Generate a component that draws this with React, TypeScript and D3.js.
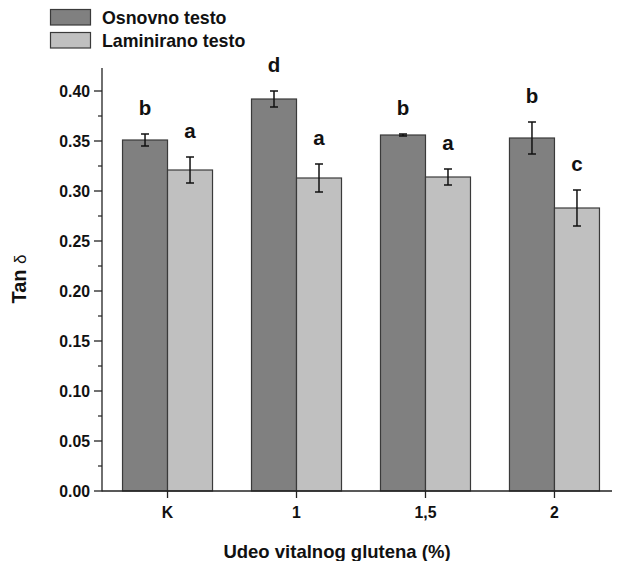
import React from "react";
import * as d3 from "d3";

const categories = ["K", "1", "1,5", "2"];
const seriesNames = ["Osnovno testo", "Laminirano testo"];
const osnovno = [0.351, 0.392, 0.356, 0.353];
const osnovnoErr = [0.006, 0.008, 0.001, 0.016];
const osnovnoLetters = ["b", "d", "b", "b"];
const laminirano = [0.321, 0.313, 0.314, 0.283];
const laminiranoErr = [0.013, 0.014, 0.008, 0.018];
const laminiranoLetters = ["a", "a", "a", "c"];
const yTicks = [0, 0.05, 0.1, 0.15, 0.2, 0.25, 0.3, 0.35, 0.4];
const yMinorTicks = [0.025, 0.075, 0.125, 0.175, 0.225, 0.275, 0.325, 0.375, 0.425];

const W = 631;
const H = 561;
const FONT = "'Liberation Sans', Arial, Helvetica, sans-serif";
const DARK = "#808080";
const LIGHT = "#c0c0c0";
const STROKE = "#3a3a3a";

export default function App() {
  const x = d3.scaleLinear().domain([-0.508, 3.446]).range([102, 612]);
  const y = d3.scaleLinear().domain([0, 0.423]).range([491, 68]);
  const barW = 45;

  const series = [
    { values: osnovno, errs: osnovnoErr, letters: osnovnoLetters, fill: DARK, offset: -barW },
    { values: laminirano, errs: laminiranoErr, letters: laminiranoLetters, fill: LIGHT, offset: 0 },
  ];

  return (
    <svg width={W} height={H} style={{ position: "absolute", left: 0, top: 0, background: "#fff" }} fontFamily={FONT}>
      {/* legend */}
      {seriesNames.map((name, i) => (
        <g key={name}>
          <rect x={50.5} y={9.5 + i * 23} width={40} height={15.5} fill={i === 0 ? DARK : LIGHT} stroke={STROKE} strokeWidth={1.2} />
          <text x={102} y={24 + i * 22.5} fontSize={17.8} fontWeight="bold" fill="#111">{name}</text>
        </g>
      ))}

      {/* bars, error bars and significance letters */}
      {series.map((s, si) => (
        <g key={si}>
          {categories.map((c, i) => {
            const x0 = x(i) + s.offset;
            const cx = x0 + barW / 2;
            const v = s.values[i];
            const e = s.errs[i];
            const top = y(v + e);
            const bot = y(v - e);
            return (
              <g key={c}>
                <rect x={x0} y={y(v)} width={barW} height={y(0) - y(v)} fill={s.fill} stroke={STROKE} strokeWidth={1.2} />
                <line x1={cx} x2={cx} y1={top} y2={bot} stroke="#111" strokeWidth={1.5} />
                <line x1={cx - 4} x2={cx + 4} y1={top} y2={top} stroke="#111" strokeWidth={1.5} />
                <line x1={cx - 4} x2={cx + 4} y1={bot} y2={bot} stroke="#111" strokeWidth={1.5} />
                <text x={cx} y={top - 19} textAnchor="middle" fontSize={20.5} fontWeight="bold" fill="#111">{s.letters[i]}</text>
              </g>
            );
          })}
        </g>
      ))}

      {/* y axis */}
      <line x1={102} x2={102} y1={y(0.423)} y2={y(0) + 0.5} stroke="#222" strokeWidth={1.3} />
      {yTicks.map((t) => (
        <g key={t}>
          <line x1={94} x2={102} y1={y(t)} y2={y(t)} stroke="#222" strokeWidth={1.3} />
          <text x={90} y={y(t) + 5.5} textAnchor="end" fontSize={15.8} fontWeight="bold" fill="#111">{t.toFixed(2)}</text>
        </g>
      ))}
      {yMinorTicks.filter((t) => t <= 0.423).map((t) => (
        <line key={t} x1={98} x2={102} y1={y(t)} y2={y(t)} stroke="#222" strokeWidth={1.2} />
      ))}

      {/* x axis */}
      <line x1={102} x2={612} y1={y(0)} y2={y(0)} stroke="#222" strokeWidth={1.3} />
      {categories.map((c, i) => (
        <g key={c}>
          <line x1={x(i)} x2={x(i)} y1={y(0)} y2={y(0) + 7} stroke="#222" strokeWidth={1.3} />
          <text x={x(i)} y={518} textAnchor="middle" fontSize={15.8} fontWeight="bold" fill="#111">{c}</text>
        </g>
      ))}

      {/* axis titles */}
      <text x={337} y={558} textAnchor="middle" fontSize={18.5} fontWeight="bold" fill="#111">Udeo vitalnog glutena (%)</text>
      <text transform="translate(26,279) rotate(-90)" textAnchor="middle" fontSize={20} fill="#111">
        <tspan fontWeight="bold">Tan </tspan>
        <tspan fontSize={17}>δ</tspan>
      </text>
    </svg>
  );
}
